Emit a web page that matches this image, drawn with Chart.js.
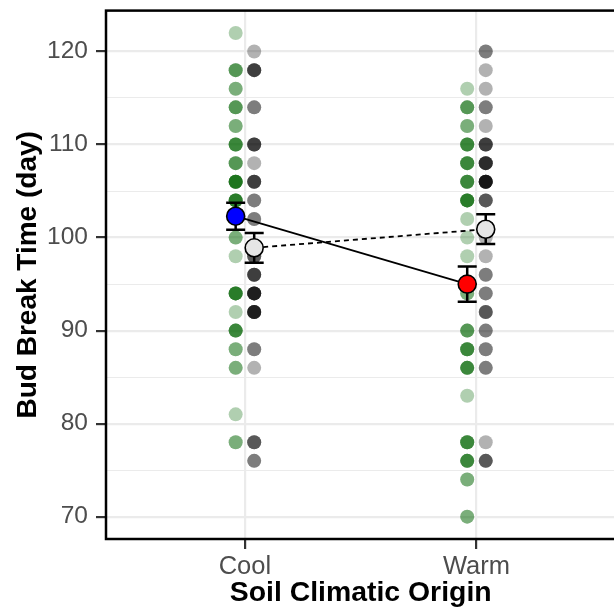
<!DOCTYPE html>
<html>
<head>
<meta charset="utf-8">
<script src="https://cdn.jsdelivr.net/npm/chart.js@4/dist/chart.umd.min.js"></script>
<style>
  html, body { margin: 0; padding: 0; background: #fff; overflow: hidden; }
  #wrap { position: relative; width: 626px; height: 612px; }
</style>
</head>
<body>
<div id="wrap"><canvas id="chart"></canvas></div>
<script>
// Categories on the x axis (positions 1 and 2)
const categories = ['Cool', 'Warm'];
const yTicks = [70, 75, 80, 85, 90, 95, 100, 105, 110, 115, 120];

// Individual observations (bud break day), repeated values = overlapping dots
const coolGreen = [122, 118, 118, 118, 116, 116, 114, 114, 114, 112, 112,
  110, 110, 110, 110, 108, 108, 108, 106, 106, 106, 106, 106, 106,
  104, 104, 104, 104, 104, 100, 100, 98, 94, 94, 94, 94, 94, 92,
  90, 90, 90, 90, 88, 88, 86, 86, 81, 78, 78];
const coolGray = [120, 118, 118, 118, 118, 114, 114, 110, 110, 110, 110, 108,
  106, 106, 106, 106, 104, 104, 102, 102, 98, 98, 98, 96, 96, 96, 96,
  94, 94, 94, 94, 94, 94, 92, 92, 92, 92, 92, 92, 88, 88, 86, 78, 78, 78, 76, 76];
const warmGreen = [116, 114, 114, 114, 112, 112, 110, 110, 110, 110,
  108, 108, 108, 108, 106, 106, 106, 106, 104, 104, 104, 104, 104,
  102, 100, 98, 94, 94, 90, 90, 90, 88, 88, 88, 88, 86, 86, 86, 86, 83,
  78, 78, 78, 78, 76, 76, 76, 76, 74, 74, 70, 70];
const warmGray = [120, 120, 118, 116, 114, 114, 112, 110, 110, 110, 110,
  108, 108, 108, 108, 108, 106, 106, 106, 106, 106, 106, 106, 104, 104, 104,
  100, 98, 96, 96, 94, 94, 92, 92, 92, 90, 90, 88, 88, 86, 86, 78, 76, 76, 76];

// Group means and standard errors (Cool, Warm)
const greenMeans = [102.3, 95.0];
const greenSE = [1.45, 1.9];
const grayMeans = [98.9, 100.9];
const graySE = [1.6, 1.6];
const greenMeanFill = ['#0000ff', '#ff0000'];
const grayMeanFill = ['#e6e6e6', '#e6e6e6'];

const DODGE = 0.04;

function pts(values, catIdx, dx) {
  return values.map(v => ({ x: catIdx + 1 + dx, y: v }));
}

const meanPoints = [];
const meanColors = [];
const meanErr = [];
categories.forEach((c, i) => {
  meanPoints.push({ x: i + 1 - DODGE, y: greenMeans[i] });
  meanColors.push(greenMeanFill[i]);
  meanErr.push(greenSE[i]);
  meanPoints.push({ x: i + 1 + DODGE, y: grayMeans[i] });
  meanColors.push(grayMeanFill[i]);
  meanErr.push(graySE[i]);
});

const errorBars = {
  id: 'errorBars',
  beforeDatasetDraw(chart, args) {
    const ds = chart.data.datasets[args.index];
    if (ds.label !== 'means') return;
    const { ctx, scales: { x, y } } = chart;
    ctx.save();
    ctx.strokeStyle = '#000';
    ctx.lineWidth = 2.5;
    ds.data.forEach((p, i) => {
      const px = x.getPixelForValue(p.x);
      const hi = y.getPixelForValue(p.y + meanErr[i]);
      const lo = y.getPixelForValue(p.y - meanErr[i]);
      ctx.beginPath();
      ctx.moveTo(px, hi); ctx.lineTo(px, lo);
      ctx.moveTo(px - 9.5, hi); ctx.lineTo(px + 9.5, hi);
      ctx.moveTo(px - 9.5, lo); ctx.lineTo(px + 9.5, lo);
      ctx.stroke();
    });
    ctx.restore();
  }
};

const panelBorder = {
  id: 'panelBorder',
  afterDraw(chart) {
    const { ctx, chartArea: a } = chart;
    ctx.save();
    ctx.strokeStyle = '#000';
    ctx.lineWidth = 2.5;
    ctx.strokeRect(a.left, a.top, a.right - a.left, a.bottom - a.top);
    ctx.restore();
  }
};

const isMajor = ctx => ctx.tick && ctx.tick.value % 10 === 0;

new Chart(document.getElementById('chart'), {
  type: 'scatter',
  data: {
    datasets: [
      { label: 'Cool green', data: pts(coolGreen, 0, -DODGE), backgroundColor: 'rgba(0,100,0,0.31)', pointRadius: 7, borderWidth: 0, order: 3 },
      { label: 'Cool gray', data: pts(coolGray, 0, DODGE), backgroundColor: 'rgba(0,0,0,0.3)', pointRadius: 7, borderWidth: 0, order: 3 },
      { label: 'Warm green', data: pts(warmGreen, 1, -DODGE), backgroundColor: 'rgba(0,100,0,0.31)', pointRadius: 7, borderWidth: 0, order: 3 },
      { label: 'Warm gray', data: pts(warmGray, 1, DODGE), backgroundColor: 'rgba(0,0,0,0.3)', pointRadius: 7, borderWidth: 0, order: 3 },
      {
        type: 'line', label: 'green line',
        data: greenMeans.map((m, i) => ({ x: i + 1 - DODGE, y: m })),
        borderColor: '#000', borderWidth: 1.8, pointRadius: 0, fill: false, order: 2
      },
      {
        type: 'line', label: 'gray line',
        data: grayMeans.map((m, i) => ({ x: i + 1 + DODGE, y: m })),
        borderColor: '#000', borderWidth: 1.8, borderDash: [5, 4], pointRadius: 0, fill: false, order: 2
      },
      {
        label: 'means', data: meanPoints, backgroundColor: meanColors,
        borderColor: '#000', borderWidth: 1.6, pointRadius: 9, order: 1
      }
    ]
  },
  options: {
    responsive: true,
    maintainAspectRatio: false,
    animation: false,
    events: [],
    layout: { padding: { left: 4, top: 9, right: 8, bottom: 2 } },
    plugins: { legend: { display: false }, tooltip: { enabled: false } },
    scales: {
      x: {
        type: 'linear', min: 0.4, max: 2.6,
        afterBuildTicks: s => { s.ticks = categories.map((c, i) => ({ value: i + 1 })); },
        afterFit: s => { s.height = 71; s.paddingLeft = 0; s.paddingRight = 0; },
        ticks: {
          callback: v => categories[Math.round(v) - 1] || '',
          color: '#4d4d4d', font: { family: 'Liberation Sans', size: 25.5 },
          padding: 3, maxRotation: 0, autoSkip: false
        },
        grid: { color: '#ebebeb', lineWidth: 2.2, tickColor: '#333333', tickWidth: 2.2, tickLength: 10 },
        border: { display: false },
        title: {
          display: true, text: 'Soil Climatic Origin', color: '#000',
          font: { family: 'Liberation Sans', size: 28.4, weight: 'bold' },
          padding: { top: 0, bottom: 0 }
        }
      },
      y: {
        type: 'linear', min: 67.6, max: 124.4,
        afterBuildTicks: s => { s.ticks = yTicks.map(v => ({ value: v })); },
        afterFit: s => { s.width = 102; s.paddingTop = 0; s.paddingBottom = 0; },
        ticks: {
          callback: v => (v % 10 === 0 ? String(v) : ''),
          color: '#4d4d4d', font: { family: 'Liberation Sans', size: 24.5 },
          padding: 8, autoSkip: false
        },
        grid: {
          color: '#ebebeb',
          lineWidth: ctx => (isMajor(ctx) ? 2.2 : 1.1),
          tickColor: ctx => (isMajor(ctx) ? '#333333' : 'rgba(0,0,0,0)'),
          tickWidth: 2.2, tickLength: 10
        },
        border: { display: false },
        title: {
          display: true, text: 'Bud Break Time (day)', color: '#000',
          font: { family: 'Liberation Sans', size: 28, weight: 'bold' },
          padding: { top: 7, bottom: 0 }
        }
      }
    }
  },
  plugins: [errorBars, panelBorder]
});
</script>
</body>
</html>
